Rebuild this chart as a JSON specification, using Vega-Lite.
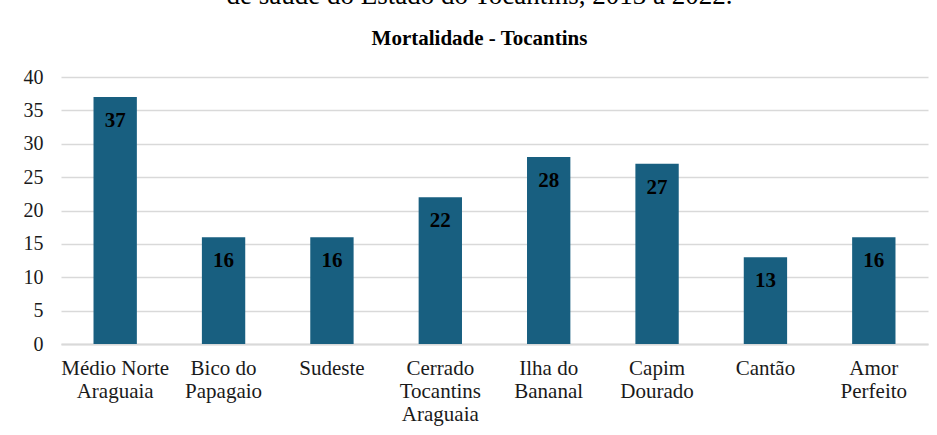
{
  "$schema": "https://vega.github.io/schema/vega-lite/v6.json",
  "autosize": {"type": "none"},
  "width": 867,
  "height": 267,
  "padding": {"left": 61, "top": 77, "right": 9, "bottom": 91},
  "background": "white",
  "title": {
    "text": "de saúde do Estado do Tocantins, 2013 a 2022.",
    "subtitle": "Mortalidade - Tocantins",
    "anchor": "middle",
    "frame": "group",
    "dx": -15,
    "font": "Liberation Serif",
    "fontSize": 27,
    "fontWeight": "normal",
    "color": "#000000",
    "subtitleFont": "Liberation Serif",
    "subtitleFontSize": 21,
    "subtitleFontWeight": "bold",
    "subtitleColor": "#000000",
    "subtitlePadding": 18,
    "offset": 17
  },
  "data": {
    "values": [
      {"regiao": "Médio Norte\nAraguaia", "obitos": 37},
      {"regiao": "Bico do\nPapagaio", "obitos": 16},
      {"regiao": "Sudeste", "obitos": 16},
      {"regiao": "Cerrado\nTocantins\nAraguaia", "obitos": 22},
      {"regiao": "Ilha do\nBananal", "obitos": 28},
      {"regiao": "Capim\nDourado", "obitos": 27},
      {"regiao": "Cantão", "obitos": 13},
      {"regiao": "Amor\nPerfeito", "obitos": 16}
    ]
  },
  "encoding": {
    "x": {
      "field": "regiao",
      "type": "nominal",
      "sort": null,
      "scale": {"paddingInner": 0.6, "paddingOuter": 0.3},
      "axis": {
        "title": null,
        "labelAngle": 0,
        "labelExpr": "split(datum.label, '\\n')",
        "labelFont": "Liberation Serif",
        "labelFontSize": 21,
        "labelColor": "#1a1a1a",
        "labelLineHeight": 23,
        "labelPadding": 13,
        "labelBaseline": "top",
        "ticks": false,
        "tickSize": 0,
        "domainColor": "#d9d9d9",
        "domainWidth": 2
      }
    },
    "y": {
      "field": "obitos",
      "type": "quantitative",
      "scale": {"domain": [0, 40]},
      "axis": {
        "title": null,
        "values": [0, 5, 10, 15, 20, 25, 30, 35, 40],
        "labelFont": "Liberation Serif",
        "labelFontSize": 20,
        "labelColor": "#1a1a1a",
        "labelPadding": 18,
        "ticks": false,
        "tickSize": 0,
        "domain": false,
        "grid": true,
        "gridColor": "#d9d9d9",
        "gridWidth": 1.5
      }
    }
  },
  "layer": [
    {"mark": {"type": "bar", "color": "#185f80"}},
    {
      "mark": {
        "type": "text",
        "font": "Liberation Serif",
        "fontSize": 21,
        "fontWeight": "bold",
        "color": "#000000",
        "baseline": "alphabetic",
        "dy": 30
      },
      "encoding": {"text": {"field": "obitos", "type": "quantitative"}}
    }
  ],
  "config": {
    "font": "Liberation Serif",
    "view": {"stroke": null},
    "axis": {"labelFont": "Liberation Serif"},
    "title": {"font": "Liberation Serif", "subtitleFont": "Liberation Serif"}
  }
}
